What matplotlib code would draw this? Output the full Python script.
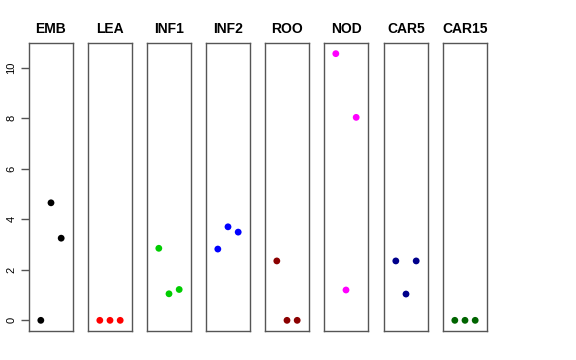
import numpy as np
import matplotlib
matplotlib.use("Agg")
import matplotlib.pyplot as plt

plt.rcParams['font.family'] = ['Liberation Sans', 'DejaVu Sans']

tissues = ["EMB", "LEA", "INF1", "INF2", "ROO", "NOD", "CAR5", "CAR15"]
colors = ["#000000", "#FF0000", "#00CD00", "#0000FF", "#8B0000", "#FF00FF", "#00008B", "#006400"]

# three replicate values per tissue
emb = [0.0, 4.65, 3.25]
lea = [0.0, 0.0, 0.0]
inf1 = [2.85, 1.05, 1.22]
inf2 = [2.82, 3.70, 3.49]
roo = [2.35, 0.0, 0.0]
nod = [10.55, 1.20, 8.03]
car5 = [2.35, 1.04, 2.35]
car15 = [0.0, 0.0, 0.0]
values = [emb, lea, inf1, inf2, roo, nod, car5, car15]

reps = [1, 2, 3]
yticks = [0, 2, 4, 6, 8, 10]

fig = plt.figure(figsize=(5.76, 3.6), dpi=100)

ymax = max(max(v) for v in values)
pad = 0.04 * ymax
lefts = [29, 88, 147, 206, 265, 324, 384, 443]

for i, (name, vals, col) in enumerate(zip(tissues, values, colors)):
    ax = fig.add_axes([lefts[i] / 576, 1 - 331 / 360, 44 / 576, 288 / 360])
    ax.scatter(reps, vals, s=24, color=col, edgecolors="none", zorder=3)
    ax.set_xlim(0 - 0.16, 4 + 0.16)
    ax.set_ylim(-pad, ymax + pad)
    ax.set_xticks([])
    for sp in ax.spines.values():
        sp.set_color("#555555")
        sp.set_linewidth(1.0)
    ax.set_title(name, fontsize=10, fontweight="bold", pad=7)
    if i == 0:
        ax.set_yticks(yticks)
        ax.set_yticklabels([str(t) for t in yticks], rotation=90, va="center", fontsize=8)
        ax.tick_params(axis="y", length=6, width=1, color="#555555", pad=3)
    else:
        ax.set_yticks([])

fig.savefig("out.png", dpi=100)
